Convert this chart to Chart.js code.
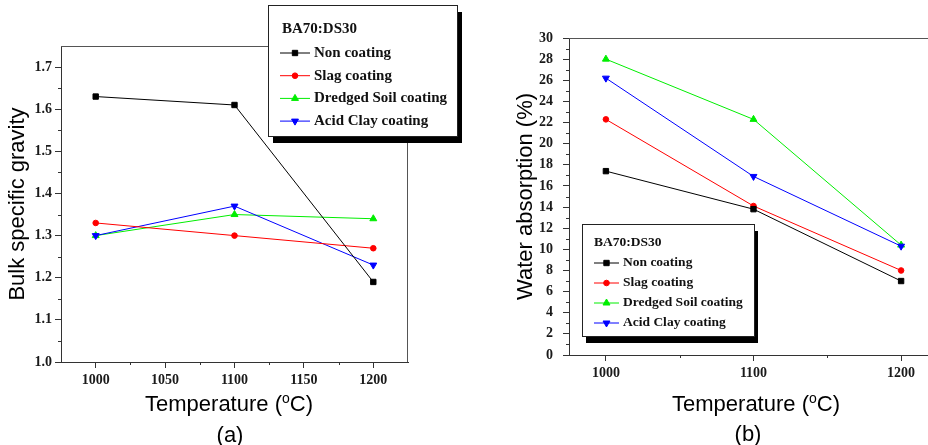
<!DOCTYPE html>
<html>
<head>
<meta charset="utf-8">
<script src="https://cdn.jsdelivr.net/npm/chart.js@4"></script>
<style>
html, body { margin: 0; padding: 0; background: #fff; overflow: hidden; width: 928px; height: 445px; }
#wrapA { position: absolute; left: 0; top: 0; width: 470px; height: 445px; }
#wrapB { position: absolute; left: 470px; top: 0; width: 480px; height: 445px; }
</style>
</head>
<body>
<div id="wrapA"><canvas id="chartA" width="470" height="445"></canvas></div>
<div id="wrapB"><canvas id="chartB" width="480" height="445"></canvas></div>
<script>
// data
const temps = [1000, 1100, 1200];
const seriesNames = ['Non coating', 'Slag coating', 'Dredged Soil coating', 'Acid Clay coating'];
const legendTitle = 'BA70:DS30';

// (a) bulk specific gravity
const gravityNon = [1.63, 1.61, 1.19];
const gravitySlag = [1.33, 1.30, 1.27];
const gravityDredged = [1.30, 1.35, 1.34];
const gravityAcid = [1.30, 1.37, 1.23];

// (b) water absorption (%)
const absorbNon = [17.4, 13.8, 7.0];
const absorbSlag = [22.3, 14.1, 8.0];
const absorbDredged = [28.0, 22.3, 10.4];
const absorbAcid = [26.2, 16.9, 10.3];

// tick values
const gravityTicks = [1.0, 1.1, 1.2, 1.3, 1.4, 1.5, 1.6, 1.7];
const gravityMinor = [1.05, 1.15, 1.25, 1.35, 1.45, 1.55, 1.65];
const tempTicksA = [1000, 1050, 1100, 1150, 1200];
const tempMinorA = [1025, 1075, 1125, 1175];
const absorbTicks = [0, 2, 4, 6, 8, 10, 12, 14, 16, 18, 20, 22, 24, 26, 28, 30];
const absorbMinor = [1, 3, 5, 7, 9, 11, 13, 15, 17, 19, 21, 23, 25, 27, 29];
const tempTicksB = [1000, 1100, 1200];
const tempMinorB = [1050, 1150];

const seriesColors = ['#000000', '#ff0000', '#00ee00', '#0000ff'];
const pointStyles = ['rect', 'circle', 'triangle', 'triangle'];
const pointRadii = [3.8, 2.8, 4, 4];
const pointRotations = [0, 0, 0, 180];
const drawOrder = [0, 1, 3, 2];

const tickFont = { family: 'Liberation Serif', weight: 'bold', size: 14 };
const titleFont = { family: 'Liberation Sans', size: 22 };

function makeDatasets(values) {
    return seriesNames.map((name, i) => ({
        label: name,
        data: temps.map((t, j) => ({ x: t, y: values[i][j] })),
        borderColor: seriesColors[i],
        backgroundColor: seriesColors[i],
        borderWidth: 1,
        pointStyle: pointStyles[i],
        pointRadius: pointRadii[i],
        pointRotation: pointRotations[i],
        pointBorderWidth: 1,
        order: drawOrder[i],
        tension: 0
    }));
}

// top/right frame, shorter minor ticks, boxed legend, x title and caption
const decorPlugin = {
    id: 'decor',
    afterDraw(chart, args, opts) {
        const ctx = chart.ctx;
        const area = chart.chartArea;
        const xs = chart.scales.x;
        const ys = chart.scales.y;
        ctx.save();

        // frame
        ctx.strokeStyle = '#555';
        ctx.lineWidth = 1;
        ctx.beginPath();
        ctx.moveTo(area.left, area.top + 0.5);
        ctx.lineTo(area.right, area.top + 0.5);
        ctx.moveTo(area.right - 0.5, area.top);
        ctx.lineTo(area.right - 0.5, area.bottom);
        ctx.stroke();

        // minor ticks
        ctx.strokeStyle = '#333';
        ctx.beginPath();
        opts.minorX.forEach(v => {
            const px = Math.round(xs.getPixelForValue(v)) + 0.5;
            ctx.moveTo(px, area.bottom);
            ctx.lineTo(px, area.bottom + 3);
        });
        opts.minorY.forEach(v => {
            const py = Math.round(ys.getPixelForValue(v)) + 0.5;
            ctx.moveTo(area.left, py);
            ctx.lineTo(area.left - 3, py);
        });
        ctx.stroke();

        // legend box with shadow
        const [bx, by, bw, bh] = opts.box;
        ctx.fillStyle = '#000';
        ctx.fillRect(bx + opts.shadow[0], by + opts.shadow[1], bw, bh);
        ctx.fillStyle = '#fff';
        ctx.fillRect(bx, by, bw, bh);
        ctx.strokeStyle = '#222';
        ctx.strokeRect(bx + 0.5, by + 0.5, bw, bh);

        ctx.font = 'bold ' + opts.legendSize + 'px "Liberation Serif"';
        ctx.textBaseline = 'middle';
        ctx.textAlign = 'left';
        ctx.fillStyle = '#111';
        ctx.fillText(legendTitle, opts.titleX, opts.titleY);
        chart.data.datasets.forEach((ds, i) => {
            const y = opts.rowY0 + i * opts.rowStep;
            ctx.strokeStyle = ds.borderColor;
            ctx.fillStyle = ds.backgroundColor;
            ctx.lineWidth = 1;
            ctx.beginPath();
            ctx.moveTo(opts.lineX0, y);
            ctx.lineTo(opts.lineX1, y);
            ctx.stroke();
            Chart.helpers.drawPoint(ctx, {
                pointStyle: ds.pointStyle,
                radius: ds.pointRadius,
                rotation: ds.pointRotation,
                borderWidth: 1
            }, (opts.lineX0 + opts.lineX1) / 2, y);
            ctx.fillStyle = '#111';
            ctx.fillText(ds.label, opts.textX, y);
        });

        // x axis title with superscript o
        const big = '22px "Liberation Sans"';
        const small = '14px "Liberation Sans"';
        ctx.fillStyle = '#000';
        ctx.textBaseline = 'alphabetic';
        ctx.font = big;
        const p1 = 'Temperature (';
        const p3 = 'C)';
        const w1 = ctx.measureText(p1).width;
        const w3 = ctx.measureText(p3).width;
        ctx.font = small;
        const w2 = ctx.measureText('o').width;
        let x = opts.xTitleX - (w1 + w2 + w3) / 2;
        const base = opts.xTitleY + 8;
        ctx.font = big;
        ctx.fillText(p1, x, base);
        x += w1;
        ctx.font = small;
        ctx.fillText('o', x, base - 8);
        x += w2;
        ctx.font = big;
        ctx.fillText(p3, x, base);

        // caption
        ctx.textAlign = 'center';
        ctx.fillText(opts.caption, opts.captionX, opts.captionY + 8);
        ctx.restore();
    }
};

function makeOptions(cfg) {
    return {
        responsive: false,
        animation: false,
        layout: { padding: { left: 0, right: cfg.padRight, top: cfg.padTop, bottom: 0 } },
        plugins: {
            legend: { display: false },
            tooltip: { enabled: false },
            decor: cfg.decor
        },
        scales: {
            x: {
                type: 'linear',
                min: 975,
                max: 1225,
                afterBuildTicks: s => { s.ticks = cfg.xTicks.map(v => ({ value: v })); },
                afterFit: s => { s.height = cfg.xHeight; },
                ticks: { font: tickFont, color: '#1a1a1a', padding: 4, maxRotation: 0,
                         callback: v => String(v) },
                grid: { drawOnChartArea: false, tickLength: 6, color: '#333' },
                border: { color: '#333' }
            },
            y: {
                min: cfg.yMin,
                max: cfg.yMax,
                afterBuildTicks: s => { s.ticks = cfg.yTicks.map(v => ({ value: v })); },
                afterFit: s => { s.width = cfg.yWidth; },
                ticks: { font: tickFont, color: '#1a1a1a', padding: cfg.yPad,
                         callback: cfg.yFormat },
                grid: { drawOnChartArea: false, tickLength: 6, color: '#333' },
                border: { color: '#333' },
                title: { display: true, text: cfg.yTitle, font: titleFont, color: '#000',
                         padding: { top: cfg.yTitlePad, bottom: 0 } }
            }
        }
    };
}

new Chart(document.getElementById('chartA'), {
    type: 'line',
    data: { datasets: makeDatasets([gravityNon, gravitySlag, gravityDredged, gravityAcid]) },
    options: makeOptions({
        padRight: 62, padTop: 46, xHeight: 83, yWidth: 61, yPad: 3, yTitlePad: 5,
        yMin: 1.0, yMax: 1.75, xTicks: tempTicksA, yTicks: gravityTicks,
        yFormat: v => v.toFixed(1), yTitle: 'Bulk specific gravity',
        decor: {
            minorX: tempMinorA, minorY: gravityMinor,
            box: [268, 5, 189, 131], shadow: [5, 7],
            legendSize: 15, titleX: 282, titleY: 29,
            rowY0: 53, rowStep: 22.7, lineX0: 280, lineX1: 310, textX: 314,
            xTitleX: 229, xTitleY: 403, caption: '(a)', captionX: 230, captionY: 434
        }
    }),
    plugins: [decorPlugin]
});

new Chart(document.getElementById('chartB'), {
    type: 'line',
    data: { datasets: makeDatasets([absorbNon, absorbSlag, absorbDredged, absorbAcid]) },
    options: makeOptions({
        padRight: 12, padTop: 38, xHeight: 90, yWidth: 99, yPad: 10, yTitlePad: 43,
        yMin: 0, yMax: 30, xTicks: tempTicksB, yTicks: absorbTicks,
        yFormat: v => String(v), yTitle: 'Water absorption (%)',
        decor: {
            minorX: tempMinorB, minorY: absorbMinor,
            box: [112, 224, 172, 112], shadow: [4, 7],
            legendSize: 13.5, titleX: 124, titleY: 243,
            rowY0: 263, rowStep: 20, lineX0: 124, lineX1: 149, textX: 153,
            xTitleX: 286, xTitleY: 403, caption: '(b)', captionX: 278, captionY: 433
        }
    }),
    plugins: [decorPlugin]
});
</script>
</body>
</html>
